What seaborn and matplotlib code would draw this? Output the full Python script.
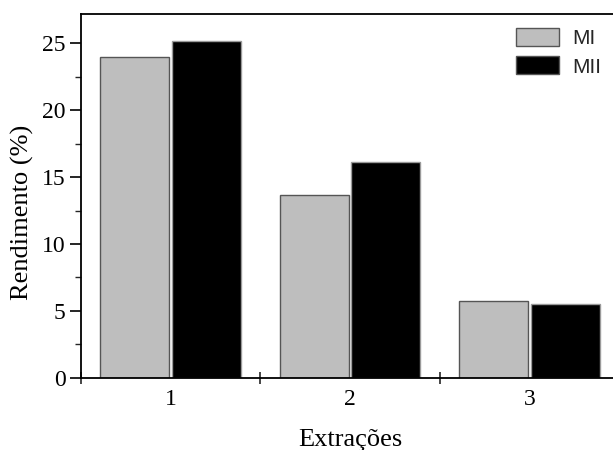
import matplotlib
matplotlib.use("Agg")
import matplotlib.pyplot as plt
import seaborn as sns
import pandas as pd
from matplotlib.ticker import MultipleLocator, FixedLocator

extracoes = ["1", "2", "3"]
mi_values = [24.0, 13.65, 5.75]
mii_values = [25.2, 16.1, 5.5]
series = ["MI", "MII"]

df = pd.DataFrame({
    "Extrações": extracoes * 2,
    "Rendimento": mi_values + mii_values,
    "Série": [series[0]] * 3 + [series[1]] * 3,
})

sns.set_theme(style="ticks")
plt.rcParams["font.family"] = ["Liberation Serif", "DejaVu Serif"]

fig = plt.figure(figsize=(6.13, 4.5), dpi=100)
ax = fig.add_axes([81 / 613, 1 - 377.7 / 450, 538 / 613, (377.7 - 14) / 450])

sns.barplot(data=df, x="Extrações", y="Rendimento", hue="Série", order=extracoes,
            hue_order=series, palette=["#bebebe", "#000000"], width=0.8, gap=0.04,
            edgecolor="#555555", linewidth=1.0, ax=ax, legend=True)

for bar in ax.patches[3:6]:
    bar.set_edgecolor("#9a9a9a")

ax.set_xlim(-0.5, 2.5)
ax.set_ylim(0, 27.2)
ax.yaxis.set_major_locator(MultipleLocator(5))
ax.yaxis.set_minor_locator(MultipleLocator(2.5))
ax.xaxis.set_minor_locator(FixedLocator([-0.5, 0.5, 1.5]))

for s in ["left", "bottom", "top"]:
    ax.spines[s].set_visible(True)
    ax.spines[s].set_color("black")
    ax.spines[s].set_linewidth(1.3)
ax.spines["right"].set_visible(False)

ax.tick_params(axis="y", which="major", direction="out", length=8, width=1.2, labelsize=17,
               colors="black", pad=3)
ax.tick_params(axis="y", which="minor", direction="out", length=4, width=1.0)
ax.tick_params(axis="x", which="major", length=0, labelsize=17, pad=8, colors="black")
ax.tick_params(axis="x", which="minor", direction="inout", length=9, width=1.2)

ax.set_xlabel("Extrações", fontsize=19, labelpad=14, color="black")
ax.set_ylabel("Rendimento (%)", fontsize=19, labelpad=6, color="black")
ax.yaxis.label.set_y(0.454)

handles, labels = ax.get_legend_handles_labels()
ax.legend(handles, labels, loc="upper left", bbox_to_anchor=(516 / 613, 1 - 28 / 450),
          bbox_transform=fig.transFigure, frameon=False, borderpad=0, borderaxespad=0,
          handlelength=2.05, handleheight=0.95, handletextpad=0.65, labelspacing=0.4,
          prop={"family": "Liberation Sans", "size": 15})

fig.savefig("out.png", dpi=100)
